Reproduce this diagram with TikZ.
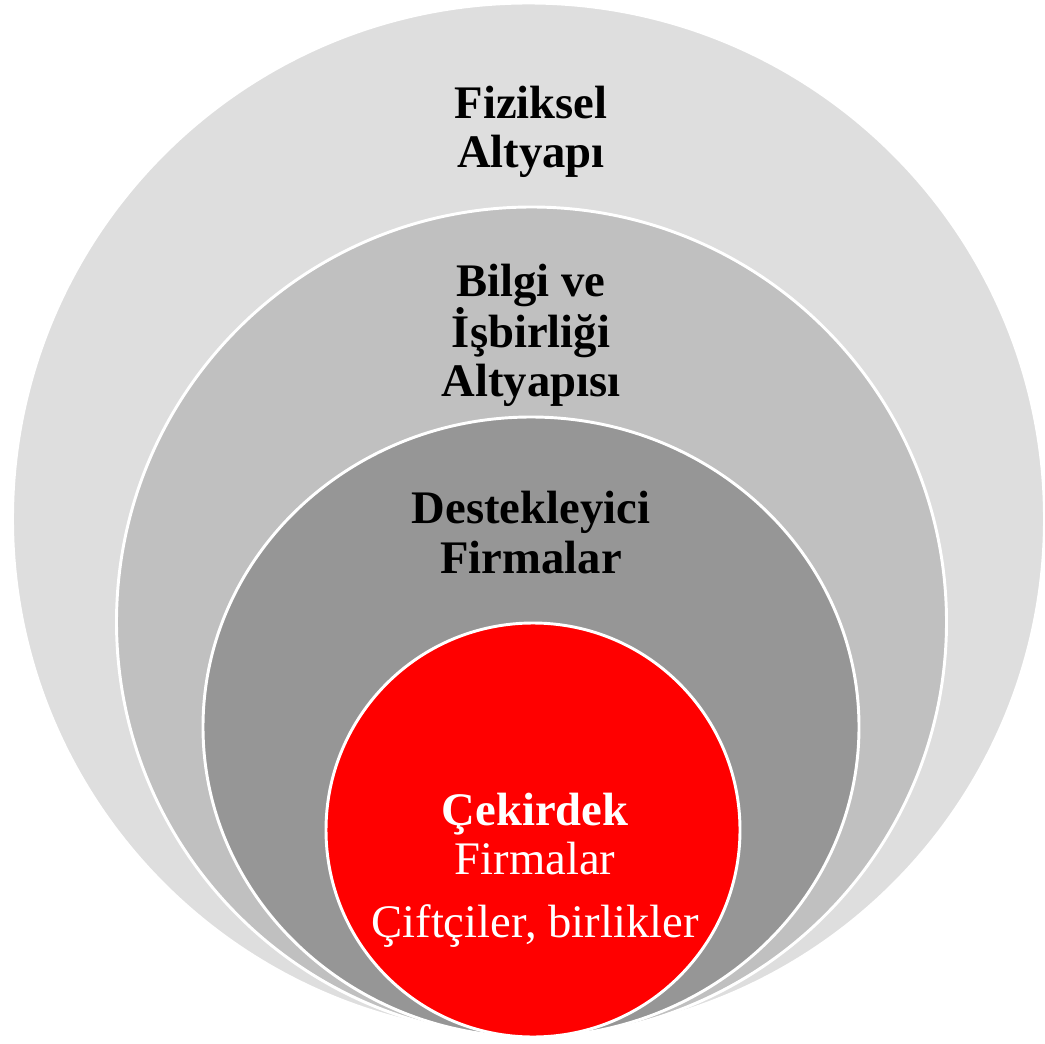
\documentclass[tikz,border=0pt]{standalone}
\usepackage{fontspec}
\setmainfont{Liberation Serif}
\usepackage{tikz}
\definecolor{ringA}{HTML}{DEDEDE}
\definecolor{ringB}{HTML}{C0C0C0}
\definecolor{ringC}{HTML}{969696}
\definecolor{core}{HTML}{FF0000}
\begin{document}
\begin{tikzpicture}[x=0.75pt,y=-0.75pt,
    ring/.style={draw=white,line width=2.2pt},
    lbl/.style={font=\bfseries\fontsize{35}{37}\selectfont,align=center,anchor=base,inner sep=0pt}]
    \useasboundingbox (0,0) rectangle (1045,1044);
    % rings, outside in
    \filldraw[ring,fill=ringA] (528.5,519) circle [radius=516];
    \filldraw[ring,fill=ringB] (531.5,622) circle [radius=415];
    \filldraw[ring,fill=ringC] (531,727) ellipse [x radius=328,y radius=310];
    \filldraw[ring,fill=core] (533,830) circle [radius=207];
    % texts (placed by the baseline of their last line)
    \node[lbl] (fiziksel) at (531,168) {Fiziksel\\Altyapı};
    \node[lbl] (bilgi) at (531,397) {Bilgi ve\\İşbirliği\\Altyapısı};
    \node[lbl] (destek) at (531,573) {Destekleyici\\Firmalar};
    \node[lbl,text=white] (cekirdek) at (535,937)
      {Çekirdek\\\mdseries Firmalar\\[10pt]\mdseries Çiftçiler, birlikler};
\end{tikzpicture}
\end{document}
